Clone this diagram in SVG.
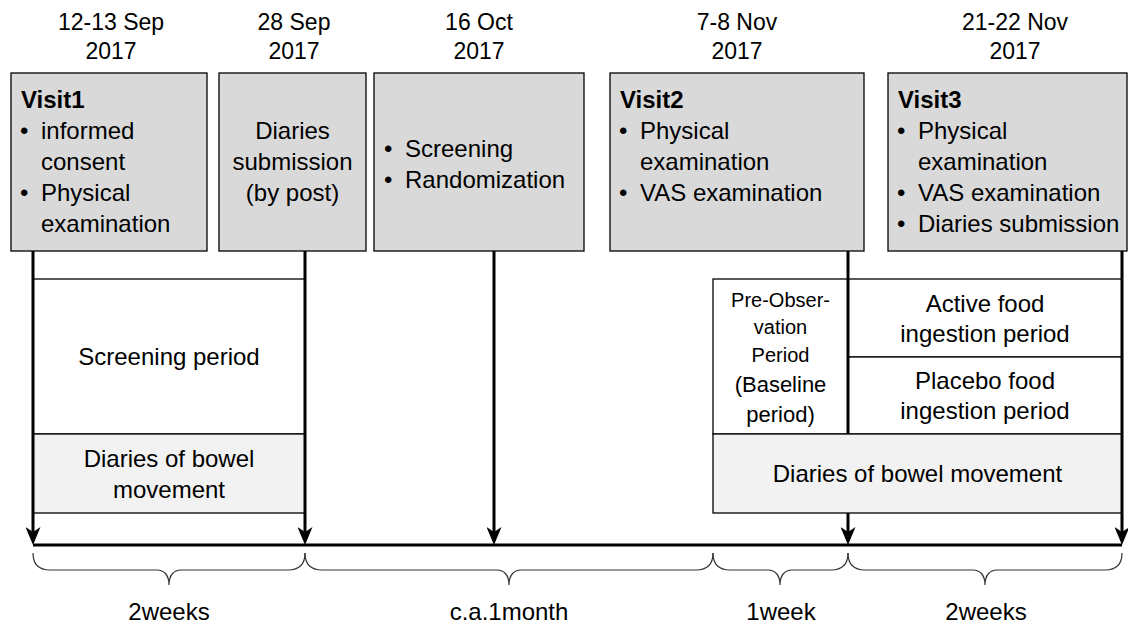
<svg xmlns="http://www.w3.org/2000/svg" width="1128" height="628" viewBox="0 0 1128 628">
<style>
text{font-family:"Liberation Sans",Arial,sans-serif;font-size:24px;fill:#000}
.c{text-anchor:middle}
.b{font-weight:bold}
.s{font-size:20px}
.m{font-size:22px}
.d{font-size:23px}
.box{fill:#d9d9d9;stroke:#000;stroke-width:1.3}
.w{fill:#fff;stroke:#000;stroke-width:1.3}
.g{fill:#f2f2f2;stroke:#000;stroke-width:1.3}
.ln{stroke:#000;stroke-width:3;fill:none}
.br{stroke:#333;stroke-width:1.2;fill:none}
</style>
<defs>
<marker id="ah" viewBox="0 0 18 15" refX="8" refY="7.5" markerWidth="18" markerHeight="15" markerUnits="userSpaceOnUse" orient="auto">
<path d="M0,0 L18,7.5 L0,15 L5,7.5 Z" fill="#000"/>
</marker>
</defs>

<g id="dates">
<text class="c d" x="111" y="30">12-13 Sep</text><text class="c d" x="111" y="59">2017</text>
<text class="c d" x="294" y="30">28 Sep</text><text class="c d" x="294" y="59">2017</text>
<text class="c d" x="479" y="30">16 Oct</text><text class="c d" x="479" y="59">2017</text>
<text class="c d" x="737" y="30">7-8 Nov</text><text class="c d" x="737" y="59">2017</text>
<text class="c d" x="1015" y="30">21-22 Nov</text><text class="c d" x="1015" y="59">2017</text>
</g>

<g id="visit1">
<rect class="box" x="11" y="73" width="196" height="178"/>
<text class="b" x="21" y="108">Visit1</text>
<text x="20" y="139">•</text><text x="41" y="139">informed</text>
<text x="41" y="170">consent</text>
<text x="20" y="201">•</text><text x="41" y="201">Physical</text>
<text x="41" y="232">examination</text>
</g>

<g id="submission">
<rect class="box" x="219" y="73" width="147" height="178"/>
<text class="c" x="292.5" y="139">Diaries</text>
<text class="c" x="292.5" y="170">submission</text>
<text class="c" x="292.5" y="201">(by post)</text>
</g>

<g id="randomization">
<rect class="box" x="374" y="73" width="210" height="178"/>
<text x="384" y="157">•</text><text x="405" y="157">Screening</text>
<text x="384" y="188">•</text><text x="405" y="188">Randomization</text>
</g>

<g id="visit2">
<rect class="box" x="610" y="73" width="254" height="178"/>
<text class="b" x="620" y="108">Visit2</text>
<text x="619" y="139">•</text><text x="640" y="139">Physical</text>
<text x="640" y="170">examination</text>
<text x="619" y="201">•</text><text x="640" y="201">VAS examination</text>
</g>

<g id="visit3">
<rect class="box" x="888" y="73" width="239" height="178"/>
<text class="b" x="898" y="108">Visit3</text>
<text x="897" y="139">•</text><text x="918" y="139">Physical</text>
<text x="918" y="170">examination</text>
<text x="897" y="201">•</text><text x="918" y="201">VAS examination</text>
<text x="897" y="232">•</text><text x="918" y="232">Diaries submission</text>
</g>

<g id="screening-period">
<rect class="w" x="33" y="279" width="272" height="155"/>
<text class="c" x="169" y="365">Screening period</text>
</g>
<g id="diaries-1">
<rect class="g" x="33" y="434" width="272" height="79"/>
<text class="c" x="169" y="467">Diaries of bowel</text>
<text class="c" x="169" y="498">movement</text>
</g>

<g id="pre-observation">
<rect class="w" x="713" y="279" width="135" height="155"/>
<text class="c s" x="780.5" y="307">Pre-Obser-</text>
<text class="c s" x="780.5" y="334">vation</text>
<text class="c s" x="780.5" y="362">Period</text>
<text class="c m" x="780.5" y="392">(Baseline</text>
<text class="c m" x="780.5" y="422">period)</text>
</g>
<g id="active">
<rect class="w" x="848" y="279" width="274" height="78"/>
<text class="c" x="985" y="312">Active food</text>
<text class="c" x="985" y="342">ingestion period</text>
</g>
<g id="placebo">
<rect class="w" x="848" y="357" width="274" height="77"/>
<text class="c" x="985" y="389">Placebo food</text>
<text class="c" x="985" y="419">ingestion period</text>
</g>
<g id="diaries-2">
<rect class="g" x="713" y="434" width="409" height="79"/>
<text class="c" x="917.5" y="482">Diaries of bowel movement</text>
</g>

<g id="connectors">
<line class="ln" x1="33" y1="545" x2="1122" y2="545" stroke-width="2.5"/>
<line class="ln" x1="33" y1="251" x2="33" y2="535" marker-end="url(#ah)"/>
<line class="ln" x1="305" y1="251" x2="305" y2="535" marker-end="url(#ah)"/>
<line class="ln" x1="494" y1="251" x2="494" y2="535" marker-end="url(#ah)"/>
<line class="ln" x1="848" y1="251" x2="848" y2="434"/>
<line class="ln" x1="848" y1="513" x2="848" y2="535" marker-end="url(#ah)"/>
<line class="ln" x1="1122" y1="251" x2="1122" y2="535" marker-end="url(#ah)"/>
</g>

<g id="braces">
<path class="br" d="M33,553 C33,563 38,570 50,570 L157,570 C164,570 169,575 169,585 C169,575 174,570 181,570 L288,570 C300,570 305,563 305,553"/>
<path class="br" d="M305,553 C305,563 310,570 322,570 L497,570 C504,570 509,575 509,585 C509,575 514,570 521,570 L696,570 C708,570 713,563 713,553"/>
<path class="br" d="M713,553 C713,563 718,570 730,570 L768,570 C775,570 780,575 780,585 C780,575 785,570 792,570 L831,570 C843,570 848,563 848,553"/>
<path class="br" d="M848,553 C848,563 853,570 865,570 L973,570 C980,570 985,575 985,585 C985,575 990,570 997,570 L1105,570 C1117,570 1122,563 1122,553"/>
</g>

<g id="durations">
<text class="c" x="169" y="620">2weeks</text>
<text class="c" x="509" y="620">c.a.1month</text>
<text class="c" x="781" y="620">1week</text>
<text class="c" x="986" y="620">2weeks</text>
</g>
</svg>
